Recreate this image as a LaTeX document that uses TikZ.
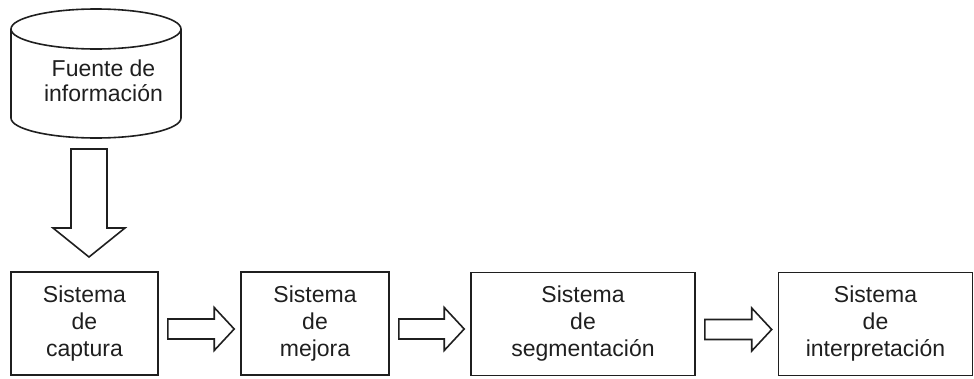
\documentclass[tikz,border=0pt]{standalone}
\usepackage{fontspec}
\setmainfont{Liberation Sans}
\usetikzlibrary{calc}
\newcommand{\hblock}[2]{%
  \draw[barrow] let \p1=(#1.east), \p2=(#2.west) in
    (\x1+9pt,\y1+4.5pt) -- (\x2-26pt,\y1+4.5pt) -- (\x2-26pt,\y1+16pt)
    -- (\x2-6pt,\y1-5.5pt) -- (\x2-26pt,\y1-27pt) -- (\x2-26pt,\y1-15.5pt)
    -- (\x1+9pt,\y1-15.5pt) -- cycle;}
\begin{document}
\begin{tikzpicture}[x=1pt,y=-1pt,line width=1.6pt,color=black!88,
  box/.style={draw, rectangle, minimum width=#1, minimum height=103pt,
    inner sep=0pt, align=center, font=\fontsize{23}{27}\selectfont},
  srctext/.style={inner sep=0pt, align=center, font=\fontsize{23}{25.5}\selectfont},
  barrow/.style={draw, fill=white, line join=miter}]
\useasboundingbox (0,0) rectangle (974,378);
% source cylinder
\draw (11,29) -- (11,118) arc[start angle=180, end angle=360, x radius=85pt, y radius=20pt] -- (181,29);
\draw (96,29) ellipse [x radius=85pt, y radius=20pt];
\node[srctext] (src) at (103.5,80.6) {Fuente de\\información};
\coordinate (srcbot) at (89,137);
% boxes
\node[box=147pt] (b1) at (84.5,323.5) {Sistema\\de\\captura};
\node[box=148pt] (b2) at (315,323.5) {Sistema\\de\\mejora};
\node[box=224pt] (b3) at (583,324) {Sistema\\de\\segmentación};
\node[box=194pt] (b4) at (875.5,324) {Sistema\\de\\interpretación};
% down block arrow
\draw[barrow] ($(srcbot)+(-18,12)$) -- ++(36,0) -- ++(0,79) -- ++(18,0)
  -- ($(srcbot)+(0,120)$) -- ++(-36,-29) -- ++(18,0) -- cycle;
% horizontal block arrows
\hblock{b1}{b2}
\hblock{b2}{b3}
\hblock{b3}{b4}
\end{tikzpicture}
\end{document}
